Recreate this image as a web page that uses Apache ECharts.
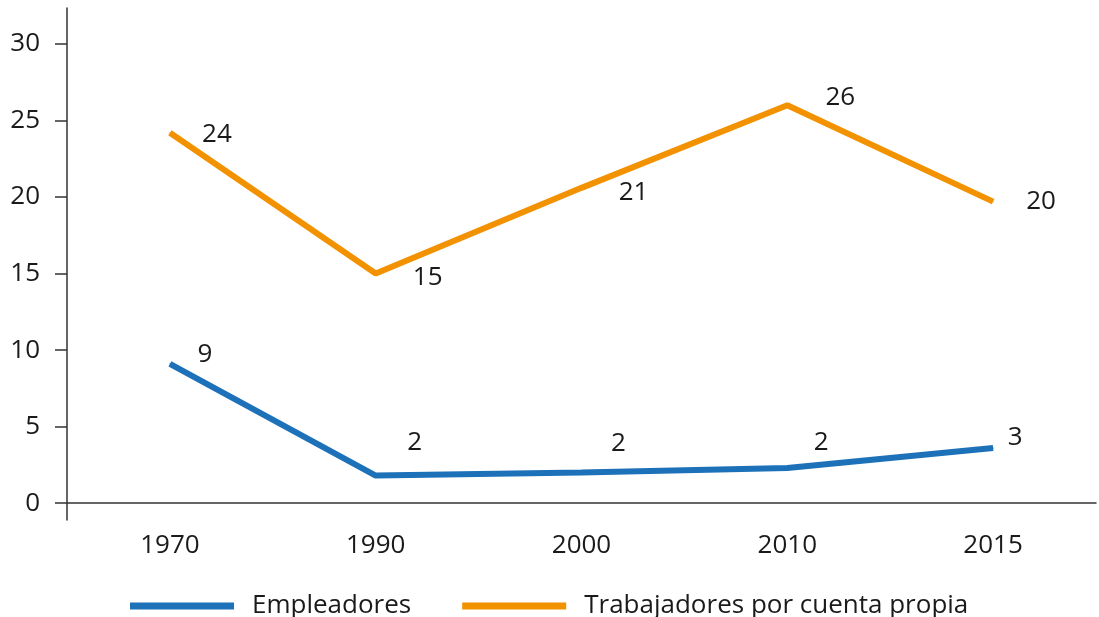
<!DOCTYPE html>
<html><head><meta charset="utf-8">
<script src="https://cdn.jsdelivr.net/npm/echarts@6/dist/echarts.min.js"></script>
<style>html,body{margin:0;padding:0;background:#fff}#c{width:1099px;height:617px}</style>
</head><body><div id="c"></div>
<script>
const categories = ['1970', '1990', '2000', '2010', '2015'];
const empleadores = [9.1, 1.8, 2.0, 2.3, 3.6];
const empleadoresLabels = ['9', '2', '2', '2', '3'];
const cuentaPropia = [24.2, 15.0, 20.6, 26.0, 19.7];
const cuentaPropiaLabels = ['24', '15', '21', '26', '20'];
const yTicks = [0, 5, 10, 15, 20, 25, 30];
const seriesNames = ['Empleadores', 'Trabajadores por cuenta propia'];

const empOffsets = [[35, -9], [39, -33], [37, -29], [34, -25], [22, -10]];
const cpOffsets = [[47, 2], [52, 4], [52, 5], [53, -8], [48, 0]];

const FONT = '"Open Sans", sans-serif';
function build(values, labels, offsets) {
  return values.map((v, i) => ({
    value: v,
    label: { show: true, position: 'inside', offset: offsets[i], formatter: labels[i] }
  }));
}

const chart = echarts.init(document.getElementById('c'), null, { renderer: 'canvas' });
chart.setOption({
  animation: false,
  textStyle: { fontFamily: FONT },
  grid: { left: 67, right: 3, top: 8, bottom: 97 },
  legend: {
    left: 125, top: 588, itemWidth: 104, itemHeight: 7, itemGap: 51, icon: 'rect',
    textStyle: { fontFamily: FONT, fontSize: 26, color: '#1a1a1a', padding: [0, 0, 0, 13] },
    data: seriesNames
  },
  xAxis: {
    type: 'category', data: categories, boundaryGap: true,
    axisLine: { onZero: true, lineStyle: { color: '#333', width: 1.5 } },
    axisTick: { show: false },
    axisLabel: { fontFamily: FONT, fontSize: 26, color: '#1a1a1a', margin: 13, interval: 0 }
  },
  yAxis: {
    type: 'value', min: -1.1, max: 32.35,
    axisLine: { show: true, lineStyle: { color: '#333', width: 1.5 } },
    axisTick: { show: true, length: 12, customValues: yTicks, lineStyle: { color: '#333', width: 1.5 } },
    axisLabel: { fontFamily: FONT, fontSize: 26, color: '#1a1a1a', margin: 27, customValues: yTicks },
    splitLine: { show: false }
  },
  series: [
    {
      name: seriesNames[0], type: 'line', data: build(empleadores, empleadoresLabels, empOffsets),
      symbol: 'circle', symbolSize: 1, color: '#1d71b8',
      lineStyle: { width: 6, color: '#1d71b8' },
      label: { fontFamily: FONT, fontSize: 26, color: '#1a1a1a' }
    },
    {
      name: seriesNames[1], type: 'line', data: build(cuentaPropia, cuentaPropiaLabels, cpOffsets),
      symbol: 'circle', symbolSize: 1, color: '#f39200',
      lineStyle: { width: 6, color: '#f39200' },
      label: { fontFamily: FONT, fontSize: 26, color: '#1a1a1a' }
    }
  ]
});
</script></body></html>
